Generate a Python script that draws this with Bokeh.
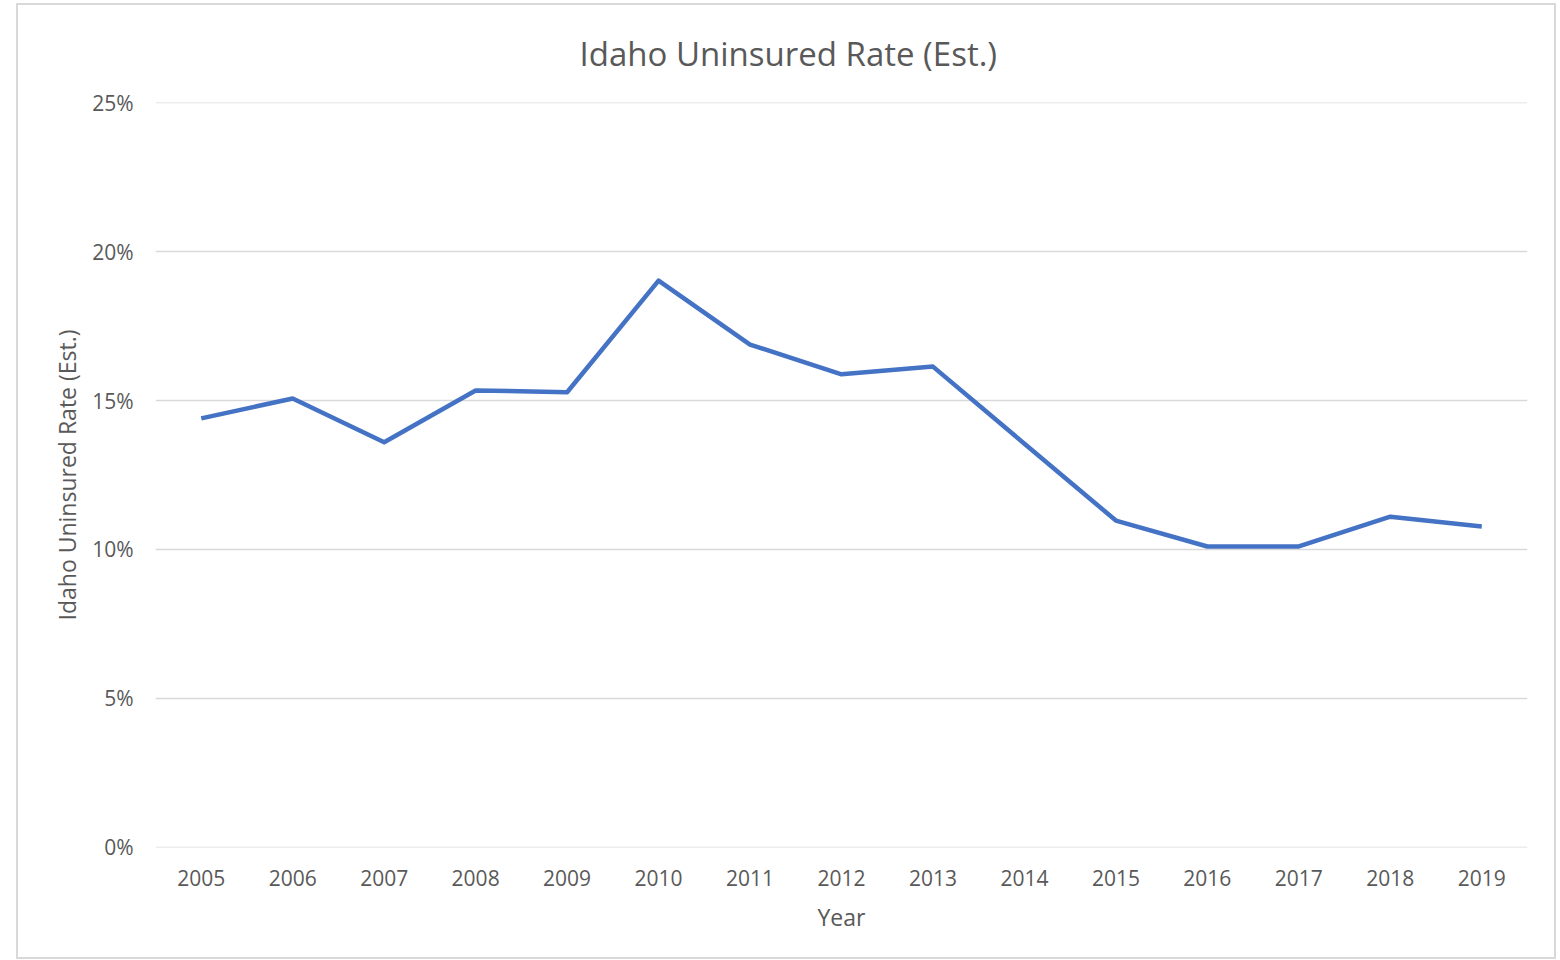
from bokeh.plotting import figure
from bokeh.models import Title, PrintfTickFormatter, FixedTicker, Range1d
from bokeh.embed import file_html
from bokeh.resources import INLINE

years = ["2005", "2006", "2007", "2008", "2009", "2010", "2011", "2012",
         "2013", "2014", "2015", "2016", "2017", "2018", "2019"]
rate = [14.4, 15.07, 13.6, 15.34, 15.28, 19.03, 16.88, 15.88,
        16.14, 13.55, 10.97, 10.1, 10.1, 11.1, 10.77]
y_ticks = [0, 5, 10, 15, 20, 25]

TXT = "#595959"
FONT = "Open Sans"

p = figure(x_range=years, y_range=Range1d(-0.01, 25.01),
           frame_width=1372, frame_height=745,
           min_border_left=137, min_border_right=27,
           min_border_top=96, min_border_bottom=110,
           output_backend="svg", toolbar_location=None,
           background_fill_color="white", border_fill_color="white")
p.margin = (3, 0, 0, 16)
p.styles = {"border": "2px solid #d9d9d9"}
p.outline_line_color = None

p.line(years, rate, line_color="#4472C4", line_width=4.5, line_join="round")

p.xgrid.grid_line_color = None
p.ygrid.grid_line_color = "#d9d9d9"
p.ygrid.grid_line_width = 1.5

for ax in (p.xaxis[0], p.yaxis[0]):
    ax.axis_line_color = None
    ax.major_tick_line_color = None
    ax.minor_tick_line_color = None
    ax.major_tick_out = 0
    ax.major_tick_in = 0
    ax.major_label_text_color = TXT
    ax.major_label_text_font = FONT
    ax.major_label_text_font_size = "21px"
    ax.axis_label_text_color = TXT
    ax.axis_label_text_font = FONT
    ax.axis_label_text_font_size = "23px"
    ax.axis_label_text_font_style = "normal"

p.yaxis.ticker = FixedTicker(ticks=y_ticks)
p.yaxis.formatter = PrintfTickFormatter(format="%d%%")
p.yaxis.major_label_standoff = 22
p.yaxis.axis_label = "Idaho Uninsured Rate (Est.)"
p.yaxis.axis_label_standoff = 6
p.xaxis.major_label_standoff = 22
p.xaxis.axis_label = "Year"
p.xaxis.axis_label_standoff = 12

title = Title(text="Idaho Uninsured Rate (Est.)", align="left", offset=424,
              vertical_align="top", text_color=TXT, text_font=FONT,
              text_font_size="33px", text_font_style="normal", standoff=50)
p.add_layout(title, "above")

open("out.html", "w").write(file_html(p, INLINE))
